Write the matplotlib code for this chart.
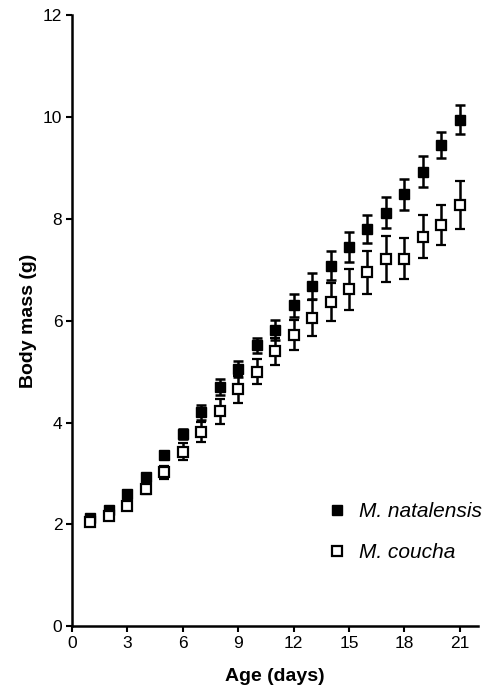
import matplotlib
matplotlib.use("Agg")
import matplotlib.pyplot as plt

plt.rcParams['font.family'] = ['Liberation Sans', 'DejaVu Sans']

age = list(range(1, 22))
natalensis = [2.12, 2.28, 2.6, 2.93, 3.37, 3.78, 4.2, 4.7, 5.05, 5.52, 5.82,
              6.3, 6.68, 7.08, 7.45, 7.8, 8.12, 8.48, 8.93, 9.45, 9.95]
natalensis_err = [0.04, 0.04, 0.05, 0.07, 0.07, 0.1, 0.15, 0.15, 0.15, 0.15, 0.2,
                  0.22, 0.25, 0.28, 0.3, 0.28, 0.3, 0.3, 0.3, 0.25, 0.28]
coucha = [2.04, 2.17, 2.37, 2.7, 3.02, 3.43, 3.82, 4.22, 4.65, 5.0, 5.4,
          5.72, 6.05, 6.37, 6.62, 6.95, 7.22, 7.22, 7.65, 7.88, 8.28]
coucha_err = [0.04, 0.05, 0.08, 0.1, 0.13, 0.17, 0.2, 0.25, 0.27, 0.25, 0.27,
              0.3, 0.35, 0.37, 0.4, 0.42, 0.45, 0.4, 0.42, 0.4, 0.47]

fig = plt.figure(figsize=(4.9, 6.89), dpi=100)
ax = fig.add_axes([0.147, 0.091, 0.829, 0.887])

ax.errorbar(age, natalensis, yerr=natalensis_err, fmt='s', color='black',
            markersize=7.5, markerfacecolor='black', ecolor='black',
            elinewidth=1.8, capsize=3.5, capthick=1.8, label='M. natalensis', zorder=3)
ax.errorbar(age, coucha, yerr=coucha_err, fmt='s', color='black',
            markersize=7.5, markerfacecolor='white', markeredgewidth=1.6,
            ecolor='black', elinewidth=1.8, capsize=3.5, capthick=1.8,
            label='M. coucha', zorder=4)

ax.set_xlim(0, 22)
ax.set_ylim(0, 12)
ax.set_xticks(range(0, 22, 3))
ax.set_yticks(range(0, 13, 2))
for s in ['top', 'right']:
    ax.spines[s].set_visible(False)
for s in ['left', 'bottom']:
    ax.spines[s].set_linewidth(1.8)
ax.tick_params(direction='out', width=1.5, length=4, labelsize=12.5, pad=3)

ax.set_xlabel('Age (days)', fontsize=14, fontweight='bold', labelpad=12)
ax.set_ylabel('Body mass (g)', fontsize=14, fontweight='bold', labelpad=4)

# legend placed by pixel position
handles, labels = ax.get_legend_handles_labels()
hs = [h[0] for h in handles]
leg = ax.legend(hs, labels, loc='upper left', bbox_to_anchor=(327 / 490, 1 - 502 / 689),
                bbox_transform=fig.transFigure, borderaxespad=0, borderpad=0,
                frameon=False, fontsize=15, handletextpad=0.53, labelspacing=1.07,
                handlelength=1.0)
for t in leg.get_texts():
    t.set_fontstyle('italic')

fig.savefig('out.png', dpi=100)
